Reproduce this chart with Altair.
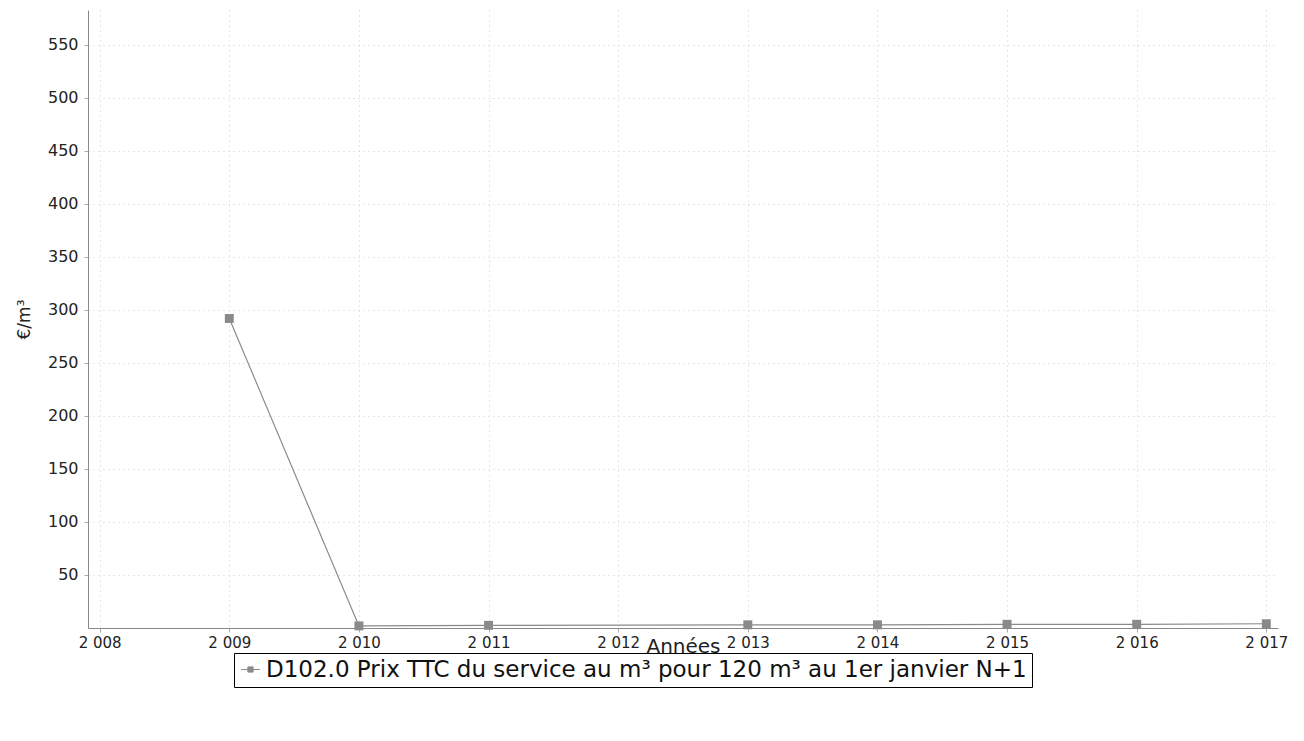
import altair as alt
import pandas as pd

years = [2009, 2010, 2011, 2013, 2014, 2015, 2016, 2017]
values = [292.0, 2.0, 2.5, 3.0, 3.0, 3.5, 3.5, 4.0]
series_name = "D102.0 Prix TTC du service au m³ pour 120 m³ au 1er janvier N+1"
x_ticks = [2008, 2009, 2010, 2011, 2012, 2013, 2014, 2015, 2016, 2017]
y_ticks = [50, 100, 150, 200, 250, 300, 350, 400, 450, 500, 550]

df = pd.DataFrame({"annee": years, "valeur": values, "serie": [series_name] * len(years)})

FONT = "DejaVu Sans"
GRAY = "#8a8a8a"

x = alt.X("annee:Q", title="Années",
          scale=alt.Scale(domain=[2007.91, 2017.09], nice=False, zero=False),
          axis=alt.Axis(values=x_ticks,
                        labelExpr="slice(toString(datum.value),0,1) + ' ' + slice(toString(datum.value),1)",
                        grid=True, gridDash=[1, 4], gridColor="#cfcfcf",
                        tickSize=4, labelFontSize=15, labelPadding=3, titleFontSize=20,
                        titleFontWeight="normal", titleY=8, titleBaseline="top",
                        labelColor="#222", titleColor="#222",
                        domainColor="#888", tickColor="#aaa"))
y = alt.Y("valeur:Q", title="€/m³",
          scale=alt.Scale(domain=[0, 583], nice=False),
          axis=alt.Axis(values=y_ticks, grid=True, gridDash=[1, 4], gridColor="#cfcfcf",
                        tickSize=4, labelFontSize=16, labelPadding=6, titleFontSize=17,
                        titleFontWeight="normal",
                        labelColor="#222", titleColor="#222",
                        domainColor="#888", tickColor="#aaa", titlePadding=14))

color = alt.Color("serie:N", scale=alt.Scale(range=[GRAY]),
                  legend=alt.Legend(title=None, orient="none", legendX=146, legendY=643,
                                    strokeColor="#000", padding=5, labelFontSize=23,
                                    labelColor="#111",
                                    symbolType="M-1.8,0H-0.5M0.5,0H1.8M-0.5,-0.5H0.5V0.5H-0.5Z",
                                    symbolSize=110, symbolStrokeWidth=1,
                                    symbolFillColor=GRAY, symbolStrokeColor=GRAY,
                                    labelLimit=1000))

line = alt.Chart(df).mark_line(strokeWidth=1.2, color=GRAY).encode(x=x, y=y)
pts = alt.Chart(df).mark_point(shape="square", filled=True, size=80, opacity=1).encode(
    x=x, y=y, color=color)

chart = (line + pts).properties(
    width=1190, height=618,
    autosize=alt.AutoSizeParams(type="none"),
    padding={"left": 80, "top": 2, "right": 10, "bottom": 100},
).configure(font=FONT).configure_view(stroke=None)

chart.save("out.html", embed_options={"renderer": "svg", "actions": False})
